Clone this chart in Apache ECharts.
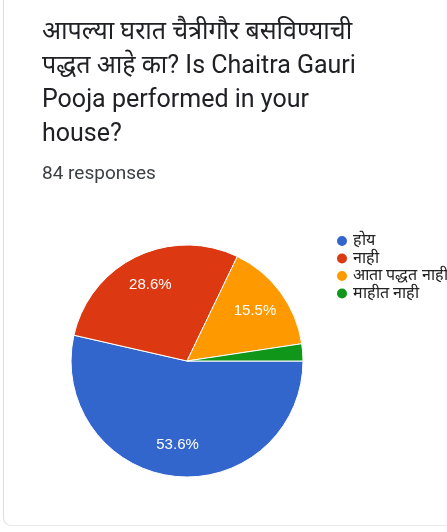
<!DOCTYPE html>
<html><head><meta charset="utf-8">
<script src="https://cdn.jsdelivr.net/npm/echarts@6/dist/echarts.min.js"></script>
<style>
html,body{margin:0;padding:0;background:#fff;}
#card{position:absolute;left:3px;top:0;width:444px;height:525px;border-left:1px solid #dadce0;border-bottom:1px solid #e8e8e8;border-bottom-left-radius:8px;}
#c{position:absolute;left:0;top:0;width:447px;height:532px;}
</style></head>
<body><div id="card"></div><div id="c"></div>
<script>
const titleLines = ["आपल्या घरात चैत्रीगौर बसविण्याची", "पद्धत आहे का? Is Chaitra Gauri", "Pooja performed in your", "house?"];
const subtitleText = "84 responses";
const categories = ["होय", "नाही", "आता पद्धत नाही", "माहीत नाही"];
const counts = [45, 24, 13, 2];
const colors = ["#3366cc", "#dc3912", "#ff9900", "#109618"];

const chart = echarts.init(document.getElementById('c'), null, {renderer:'canvas'});
const data = categories.map((n,i)=>({name:n, value:counts[i], itemStyle:{color:colors[i]}}));
const total = counts.reduce((a,b)=>a+b,0);
chart.setOption({
  animation:false,
  title:[{
    text: titleLines.join('\n'),
    left: 42, top: 16, padding:0,
    textStyle:{fontFamily:'Roboto, "Noto Sans", sans-serif', fontSize:25, fontWeight:'normal', color:'#202124', lineHeight:34}
  },{
    text: subtitleText, left:42, top:165, padding:0,
    textStyle:{fontFamily:'Roboto, "Noto Sans", sans-serif', fontSize:19, fontWeight:'normal', color:'#3c4043'}
  }],
  legend:{
    orient:'vertical', left:335, top:233, padding:0,
    icon:'circle', itemWidth:12, itemHeight:12, itemGap:1.5,
    data: categories,
    textStyle:{fontSize:16, lineHeight:16, color:'#222', fontFamily:'Arial, sans-serif'}
  },
  series:[{
    type:'pie', center:[187,361], radius:[0,116], startAngle:0, clockwise:true,
    data: data, label:{show:false}, labelLine:{show:false},
    itemStyle:{borderColor:'#fff', borderWidth:1},
    emphasis:{disabled:true}
  },{
    type:'pie', center:[187,361], radius:[47,116], startAngle:0, clockwise:true,
    data: data.map(d=>({name:d.name, value:d.value, itemStyle:{color:'rgba(0,0,0,0)'}})),
    legendHoverLink:false, silent:true,
    label:{show:true, position:'inside', color:'#fff', fontSize:15, fontFamily:'Arial, sans-serif',
      formatter: p => p.value/total < 0.05 ? '' : (p.value/total*100).toFixed(1)+'%'},
    labelLine:{show:false}, emphasis:{disabled:true}
  }]
});
</script></body></html>
